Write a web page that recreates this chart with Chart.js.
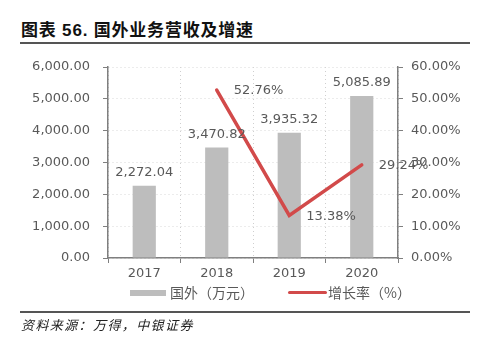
<!DOCTYPE html>
<html>
<head>
<meta charset="utf-8">
<script src="https://cdn.jsdelivr.net/npm/chart.js@4"></script>
<style>
  html, body { margin: 0; padding: 0; background: #fff; }
  body { width: 484px; height: 362px; position: relative; overflow: hidden; }
  #chart { position: absolute; left: 0; top: 0; }
  .title { position: absolute; left: 21px; top: 16px; font: bold 17px "Liberation Sans", "Noto Sans CJK SC", sans-serif; letter-spacing: 0.8px; color: #111; }
  .rule { position: absolute; left: 20px; width: 450px; height: 2px; background: #555; }
  .source { position: absolute; left: 21px; top: 315px; font: italic 13px "Noto Sans CJK SC", sans-serif; letter-spacing: 1.4px; color: #222; }
  .legend { position: absolute; top: 284px; font: 14px "Noto Sans CJK SC", sans-serif; color: #595959; }
  .legend span.box { position: absolute; }
</style>
</head>
<body>
<div class="title">图表 56. 国外业务营收及增速</div>
<div class="rule" style="top:42px"></div>
<canvas id="chart" width="484" height="362"></canvas>
<div class="legend" style="left:130px">
  <span class="box" style="left:0;top:6px;width:36px;height:6px;background:#bdbdbd"></span>
  <span style="position:absolute;left:40px;top:-2px;white-space:nowrap">国外（万元）</span>
</div>
<div class="legend" style="left:288px">
  <span class="box" style="left:0;top:7px;width:39px;height:3px;background:#d24a4a;border-radius:2px"></span>
  <span style="position:absolute;left:40px;top:-2px;white-space:nowrap">增长率（%）</span>
</div>
<div class="rule" style="top:311px"></div>
<div class="source">资料来源：万得，中银证券</div>
<script>
const years = ['2017', '2018', '2019', '2020'];
const revenue = [2272.04, 3470.82, 3935.32, 5085.89];
const growth = [null, 52.76, 13.38, 29.24];
const leftTicks = [0, 1000, 2000, 3000, 4000, 5000, 6000];
const rightTicks = [0, 10, 20, 30, 40, 50, 60];

const textGray = '#595959';
const tickFont = { family: 'DejaVu Sans', size: 13 };

const fmt2 = v => v.toLocaleString('en-US', { minimumFractionDigits: 2, maximumFractionDigits: 2 });

// value labels: above bars, to the right of line points
const valueLabels = {
  id: 'valueLabels',
  afterDatasetsDraw(chart) {
    const ctx = chart.ctx;
    ctx.save();
    ctx.font = '13px "DejaVu Sans"';
    ctx.fillStyle = textGray;
    chart.getDatasetMeta(0).data.forEach((bar, i) => {
      ctx.textAlign = 'center';
      ctx.textBaseline = 'middle';
      ctx.fillText(fmt2(revenue[i]), bar.x, bar.y - 13);
    });
    chart.getDatasetMeta(1).data.forEach((pt, i) => {
      if (growth[i] == null) return;
      ctx.textAlign = 'left';
      ctx.textBaseline = 'middle';
      ctx.fillText(growth[i].toFixed(2) + '%', pt.x + 17, pt.y + 1);
    });
    ctx.restore();
  }
};

new Chart(document.getElementById('chart'), {
  data: {
    labels: years,
    datasets: [
      {
        type: 'bar', label: '国外（万元）', data: revenue, yAxisID: 'y',
        backgroundColor: '#bdbdbd', barPercentage: 0.32, categoryPercentage: 1, order: 2
      },
      {
        type: 'line', label: '增长率（%）', data: growth, yAxisID: 'y1',
        borderColor: '#d24a4a', borderWidth: 3.5, pointRadius: 0, tension: 0,
        borderCapStyle: 'round', order: 1
      }
    ]
  },
  options: {
    responsive: false,
    animation: false,
    layout: { padding: { left: 0, right: 0, top: 67, bottom: 80 } },
    plugins: { legend: { display: false }, tooltip: { enabled: false } },
    scales: {
      x: {
        offset: true,
        afterFit: s => { s.height = 24; },
        grid: { offset: true, color: '#cfcfcf', tickColor: '#7f7f7f', tickLength: 5, lineWidth: 1 },
        border: { color: '#7f7f7f', width: 1.5, dash: [1, 3] },
        ticks: { color: textGray, font: tickFont, padding: 3 }
      },
      y: {
        position: 'left', min: 0, max: 6000,
        afterFit: s => { s.width = 108; },
        afterBuildTicks: s => { s.ticks = leftTicks.map(v => ({ value: v })); },
        grid: { color: '#d9d9d9', tickColor: '#7f7f7f', tickLength: 5 },
        border: { color: '#7f7f7f', width: 1.5, dash: [1, 3] },
        ticks: { color: textGray, font: tickFont, padding: 13, callback: v => fmt2(v) }
      },
      y1: {
        position: 'right', min: 0, max: 60,
        afterFit: s => { s.width = 86; },
        afterBuildTicks: s => { s.ticks = rightTicks.map(v => ({ value: v })); },
        grid: { drawOnChartArea: false, tickColor: '#7f7f7f', tickLength: 5 },
        border: { color: '#7f7f7f', width: 1.5 },
        ticks: { color: textGray, font: tickFont, padding: 8, callback: v => v.toFixed(2) + '%' }
      }
    }
  },
  plugins: [valueLabels]
});
</script>
</body>
</html>
